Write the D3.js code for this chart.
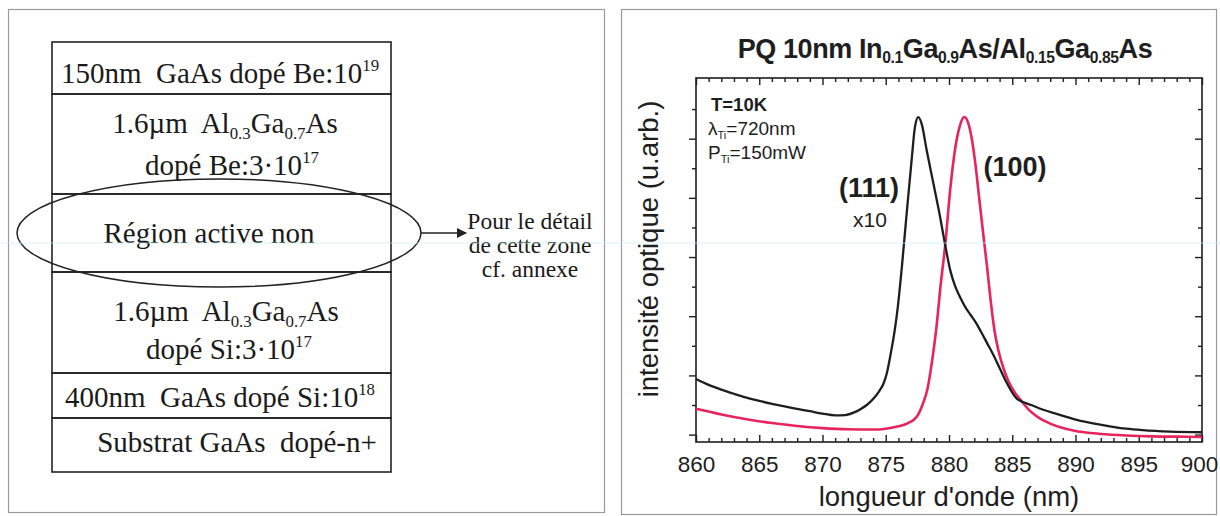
<!DOCTYPE html>
<html>
<head>
<meta charset="utf-8">
<script src="https://cdn.jsdelivr.net/npm/d3@7"></script>
<style>
  body { margin: 0; background: #fff; }
  svg { display: block; }
  text { white-space: pre; }
</style>
</head>
<body>
<div id="chart"></div>
<script>
var w = 1220,
    h = 516;

// spectre (111), x10 (noir)
var wl111 = [860, 861, 862, 863, 864, 865, 866, 867, 868, 869, 870, 871, 871.8, 872.5, 873, 873.5, 874, 874.5, 874.8,
    875.1, 875.4, 875.7, 875.95, 876.26, 876.66, 877.05, 877.31, 877.57, 877.84, 878.24, 878.76,
    879.29, 879.7, 880.1, 880.5, 880.87, 881.3, 881.7, 882.1, 882.5, 883, 883.5, 884, 884.5, 885, 885.4, 885.75,
    886.5, 887.45, 888.5, 890.1, 891.5, 892.7, 894, 895.3, 897.5, 900];
var int111 = [1.88, 1.68, 1.52, 1.38, 1.25, 1.14, 1.04, 0.95, 0.87, 0.79, 0.71, 0.65, 0.66, 0.75, 0.86, 1.0, 1.2, 1.48, 1.7,
    2.1, 2.75, 3.5, 4.3, 5.6, 7.5, 9.3, 10.4, 10.73, 10.5, 9.6, 8.5,
    7.37, 6.4, 5.55, 5.0, 4.65, 4.3, 4.05, 3.8, 3.5, 3.1, 2.7, 2.25, 1.8, 1.42, 1.2, 1.12,
    1.0, 0.84, 0.7, 0.5, 0.37, 0.28, 0.2, 0.15, 0.1, 0.08];

// spectre (100) (rouge)
var wl100 = [860, 862, 864, 866, 868, 870, 872, 874, 875, 876, 876.8, 877.45, 877.9, 878.3, 878.7, 879.0, 879.35, 879.7,
    880.1, 880.5, 880.87, 881.21, 881.5, 881.8, 882.1, 882.4, 882.7, 883.0, 883.3, 883.6, 883.9, 884.3, 884.7,
    885.2, 885.75, 886.4, 887, 887.5, 888, 889, 890, 891, 892, 894, 896, 898, 900];
var int100 = [0.87, 0.68, 0.52, 0.39, 0.29, 0.22, 0.18, 0.17, 0.2, 0.28, 0.4, 0.6, 1.0, 1.55, 2.6, 3.6, 5.1, 6.4,
    8.3, 9.7, 10.45, 10.73, 10.55, 10.0, 9.1, 7.94, 6.8, 5.7, 4.5, 3.5, 2.85, 2.25, 1.8,
    1.42, 1.12, 0.8, 0.6, 0.47, 0.37, 0.22, 0.12, 0.06, 0.02, -0.03, -0.06, -0.07, -0.08];

var xLabels = [860, 865, 870, 875, 880, 885, 890, 895, 900];
var yTicks = d3.range(0, 12);

// couches de l'echantillon (texte par ligne, segments [texte, type])
var layers = [
    [[['150nm  GaAs dopé Be:10', ''], ['19', 'sup']]],
    [[['1.6µm  Al', ''], ['0.3', 'sub'], ['Ga', ''], ['0.7', 'sub'], ['As', '']],
     [['dopé Be:3·10', ''], ['17', 'sup']]],
    [[['Région active non', '']]],
    [[['1.6µm  Al', ''], ['0.3', 'sub'], ['Ga', ''], ['0.7', 'sub'], ['As', '']],
     [['dopé Si:3·10', ''], ['17', 'sup']]],
    [[['400nm  GaAs dopé Si:10', ''], ['18', 'sup']]],
    [[['Substrat GaAs  dopé-n+', '']]]
];
var noteLines = ['Pour le détail', 'de cette zone', 'cf. annexe'];

var palette = {
    black: '#1e1e1e',
    red: '#e8245c',
    frame: '#9a9a9a'
};

var svg = d3.select('#chart')
    .append('svg')
    .attr('width', w)
    .attr('height', h)

function rich(t, segs, size) {
    var shift = 0;
    segs.forEach(function(s) {
        var target = 0, fs = size;
        if (s[1] === 'sup') { target = -size * 0.42; fs = size * 0.58 }
        if (s[1] === 'sub') { target = size * 0.2; fs = size * 0.58 }
        t.append('tspan')
            .attr('dy', target - shift)
            .attr('font-size', fs)
            .text(s[0]);
        shift = target;
    })
}

// cadres des deux panneaux
svg.append('rect').attr('x', 8.5).attr('y', 9.5).attr('width', 596).attr('height', 503)
    .attr('fill', 'none').attr('stroke', palette.frame).attr('stroke-width', 1.2)
svg.append('rect').attr('x', 621.5).attr('y', 9.5).attr('width', 595).attr('height', 505)
    .attr('fill', 'none').attr('stroke', palette.frame).attr('stroke-width', 1.2)

// ---------- panneau gauche : empilement ----------
var left = svg.append('g')
    .attr('font-family', '"Liberation Serif", "Times New Roman", serif')
    .attr('fill', '#1a1a1a')

var fsL = 29;
var rowH = [52, 100, 78, 101, 45, 54];
var rowText = [[[220, 41]], [[225, 39], [232, 81]], [[209, 49]], [[226, 49], [229, 87]], [[220, 34]], [[237, 34]]];
var boxX = 52, boxW = 339, yTop = 42;

var yRow = yTop;
layers.forEach(function(lines, i) {
    left.append('rect')
        .attr('x', boxX).attr('y', yRow)
        .attr('width', boxW).attr('height', rowH[i])
        .attr('fill', 'none').attr('stroke', '#222').attr('stroke-width', 1.6)
    lines.forEach(function(segs, j) {
        var t = left.append('text')
            .attr('x', rowText[i][j][0])
            .attr('y', yRow + rowText[i][j][1])
            .attr('text-anchor', 'middle')
            .attr('font-size', fsL)
        rich(t, segs, fsL)
    })
    yRow += rowH[i];
})

left.append('ellipse')
    .attr('cx', 219).attr('cy', 233).attr('rx', 202).attr('ry', 54)
    .attr('fill', 'none').attr('stroke', '#222').attr('stroke-width', 1.5)

svg.append('defs').append('marker')
    .attr('id', 'arrow').attr('viewBox', '0 0 10 10')
    .attr('refX', 9).attr('refY', 5)
    .attr('markerWidth', 7).attr('markerHeight', 7)
    .attr('orient', 'auto')
    .append('path').attr('d', 'M0,0 L10,5 L0,10 z').attr('fill', '#222')

left.append('line')
    .attr('x1', 421).attr('y1', 233).attr('x2', 466).attr('y2', 233)
    .attr('stroke', '#222').attr('stroke-width', 1.5)
    .attr('marker-end', 'url(#arrow)')

left.selectAll('.note')
    .data(noteLines).enter().append('text')
    .attr('class', 'note')
    .attr('x', 530)
    .attr('y', function(d, i) { return 229 + i * 24 })
    .attr('text-anchor', 'middle')
    .attr('font-size', 23.5)
    .text(function(d) { return d })

// ---------- panneau droit : spectres ----------
var plot = { left: 696, right: 1202, top: 78, bottom: 442 };

var x = d3.scaleLinear().domain([860, 900]).range([plot.left, plot.right]);
var y = d3.scaleLinear().domain([-0.25, 12.05]).range([plot.bottom, plot.top]);

var right = svg.append('g')
    .attr('font-family', '"Liberation Sans", Arial, Helvetica, sans-serif')
    .attr('fill', '#1e1e1e')

var fmt = function(d) { return xLabels.indexOf(d) >= 0 ? d : '' };

var xb = right.append('g')
    .attr('transform', 'translate(0,' + plot.bottom + ')')
    .call(d3.axisBottom(x).tickValues(d3.range(860, 901, 1)).tickSizeInner(-4).tickSizeOuter(0)
        .tickPadding(14).tickFormat(fmt))
var xt = right.append('g')
    .attr('transform', 'translate(0,' + plot.top + ')')
    .call(d3.axisTop(x).tickValues(d3.range(860, 901, 1)).tickSizeInner(-4).tickSizeOuter(0)
        .tickFormat(''))
var yl = right.append('g')
    .attr('transform', 'translate(' + plot.left + ',0)')
    .call(d3.axisLeft(y).tickValues(yTicks).tickSizeInner(4).tickSizeOuter(0).tickFormat(''))
var yr = right.append('g')
    .attr('transform', 'translate(' + plot.right + ',0)')
    .call(d3.axisRight(y).tickValues(yTicks).tickSizeInner(-4).tickSizeOuter(0).tickFormat(''))

;[xb, xt, yl, yr].forEach(function(a) {
    a.select('.domain').remove();
    a.selectAll('.tick line').attr('stroke', '#1e1e1e').attr('stroke-width', 1.4);
})
xb.selectAll('.tick line').attr('y2', function(d) { return d % 5 === 0 ? -7 : -4 })
xt.selectAll('.tick line').attr('y2', function(d) { return d % 5 === 0 ? 7 : 4 })
yl.selectAll('.tick line').attr('x2', function(d) { return d % 2 === 0 ? -7 : -4 })
yr.selectAll('.tick line').attr('x2', function(d) { return d % 2 === 0 ? -7 : -4 })
xb.selectAll('.tick text')
    .attr('font-family', '"Liberation Sans", Arial, sans-serif')
    .attr('font-size', 22.5)
    .attr('fill', '#1e1e1e')
    .attr('x', function(d) { return d === 900 ? -3 : 0 })

right.append('rect')
    .attr('x', plot.left).attr('y', plot.top)
    .attr('width', plot.right - plot.left).attr('height', plot.bottom - plot.top)
    .attr('fill', 'none').attr('stroke', '#1e1e1e').attr('stroke-width', 1.6)

var line = d3.line()
    .x(function(d) { return x(d[0]) })
    .y(function(d) { return y(d[1]) })
    .curve(d3.curveMonotoneX)

right.append('path')
    .datum(d3.zip(wl100, int100))
    .attr('d', line)
    .attr('fill', 'none')
    .attr('stroke', palette.red)
    .attr('stroke-width', 2.6)

right.append('path')
    .datum(d3.zip(wl111, int111))
    .attr('d', line)
    .attr('fill', 'none')
    .attr('stroke', palette.black)
    .attr('stroke-width', 2.3)

// titre
var title = right.append('text')
    .attr('x', 945).attr('y', 58)
    .attr('text-anchor', 'middle')
    .attr('font-weight', 'bold')
    .attr('font-size', 27)
    .attr('letter-spacing', -0.4)
rich(title, [['PQ 10nm In', ''], ['0.1', 'sub'], ['Ga', ''], ['0.9', 'sub'], ['As/Al', ''], ['0.15', 'sub'],
    ['Ga', ''], ['0.85', 'sub'], ['As', '']], 27)

// axes : titres
right.append('text')
    .attr('x', 949).attr('y', 506)
    .attr('text-anchor', 'middle')
    .attr('font-size', 27.5)
    .text("longueur d'onde (nm)")

right.append('text')
    .attr('transform', 'translate(658,249) rotate(-90)')
    .attr('text-anchor', 'middle')
    .attr('font-size', 27.5)
    .text('intensité optique (u.arb.)')

// annotations
right.append('text')
    .attr('x', 711).attr('y', 111)
    .attr('font-weight', 'bold').attr('font-size', 18.5)
    .text('T=10K')
var lam = right.append('text').attr('x', 708).attr('y', 135).attr('font-size', 19)
rich(lam, [['λ', ''], ['Ti', 'sub'], ['=720nm', '']], 19)
var pw = right.append('text').attr('x', 708).attr('y', 159).attr('font-size', 19)
rich(pw, [['P', ''], ['Ti', 'sub'], ['=150mW', '']], 19)

right.append('text')
    .attr('x', 869).attr('y', 197)
    .attr('text-anchor', 'middle')
    .attr('font-weight', 'bold').attr('font-size', 27)
    .text('(111)')
right.append('text')
    .attr('x', 870).attr('y', 227)
    .attr('text-anchor', 'middle')
    .attr('font-size', 21)
    .text('x10')
right.append('text')
    .attr('x', 1015).attr('y', 176)
    .attr('text-anchor', 'middle')
    .attr('font-weight', 'bold').attr('font-size', 27)
    .text('(100)')

// trait parasite du scan
svg.append('line')
    .attr('x1', 0).attr('x2', w).attr('y1', 243).attr('y2', 243)
    .attr('stroke', '#c8f0f0').attr('stroke-width', 1).attr('opacity', 0.7)
</script>
</body>
</html>
